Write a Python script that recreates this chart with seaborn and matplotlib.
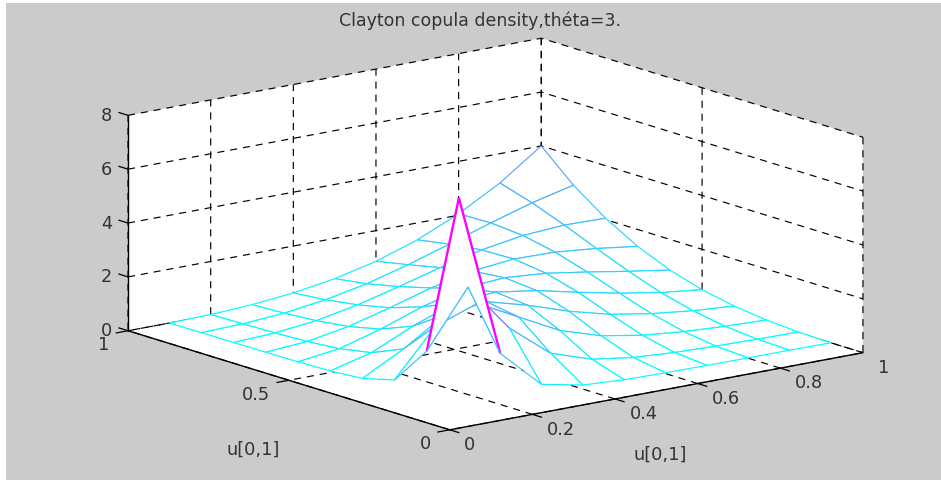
import numpy as np
import matplotlib
matplotlib.use("Agg")
import matplotlib.pyplot as plt
from matplotlib.patches import Rectangle
from mpl_toolkits.mplot3d.art3d import Poly3DCollection, Line3DCollection
import seaborn as sns

# grid of the mesh
u_grid = [0.1, 0.2, 0.3, 0.4, 0.5, 0.6, 0.7, 0.8, 0.9, 1.0]

# density, one row per u value
z_01 = [7.96, 1.90, 0.46, 0.15, 0.06, 0.03, 0.02, 0.01, 0.01, 0.00]
z_02 = [1.90, 4.00, 2.18, 0.96, 0.45, 0.23, 0.13, 0.08, 0.05, 0.03]
z_03 = [0.46, 2.18, 2.73, 1.94, 1.15, 0.67, 0.40, 0.25, 0.16, 0.11]
z_04 = [0.15, 0.96, 1.94, 2.14, 1.72, 1.21, 0.81, 0.55, 0.37, 0.26]
z_05 = [0.06, 0.45, 1.15, 1.72, 1.84, 1.61, 1.26, 0.94, 0.68, 0.50]
z_06 = [0.03, 0.23, 0.67, 1.21, 1.61, 1.72, 1.60, 1.36, 1.10, 0.86]
z_07 = [0.02, 0.13, 0.40, 0.81, 1.26, 1.60, 1.76, 1.73, 1.58, 1.37]
z_08 = [0.01, 0.08, 0.25, 0.55, 0.94, 1.36, 1.73, 1.98, 2.08, 2.05]
z_09 = [0.01, 0.05, 0.16, 0.37, 0.68, 1.10, 1.58, 2.08, 2.54, 2.91]
z_10 = [0.00, 0.03, 0.11, 0.26, 0.50, 0.86, 1.37, 2.05, 2.91, 4.00]

x_ticks = [0, 0.2, 0.4, 0.6, 0.8, 1]
x_tick_labels = ["0", "0.2", "0.4", "0.6", "0.8", "1"]
y_ticks = [0, 0.5, 1]
y_tick_labels = ["0", "0.5", "1"]
z_ticks = [0, 2, 4, 6, 8]
z_tick_labels = ["0", "2", "4", "6", "8"]

title = "Clayton copula density,théta=3."
axis_label = "u[0,1]"

sns.set_theme(style="ticks")
plt.rcParams["font.family"] = ["DejaVu Sans"]
plt.rcParams["grid.color"] = "black"
plt.rcParams["grid.linewidth"] = 0.85
plt.rcParams["grid.linestyle"] = (0, (6, 5))
plt.rcParams["axes.edgecolor"] = "black"
plt.rcParams["axes.linewidth"] = 1.0

W, H = 941, 481
fig = plt.figure(figsize=(W / 100, H / 100), dpi=100, facecolor="white")
fig.add_artist(Rectangle((6 / W, 0), 1, 1 - 4 / H, transform=fig.transFigure,
                         facecolor="#cbcbcb", edgecolor="none", zorder=-5))

S = 750.5
ax = fig.add_axes([110.1 / W, -139.4 / H, S / W, S / H], projection="3d",
                  proj_type="ortho", computed_zorder=False)
ax.set_facecolor("none")
ax.view_init(elev=13.87, azim=-127.9)
ax.set_box_aspect((1, 1, 0.4237))

U = np.array(u_grid)
Z = np.array([z_01, z_02, z_03, z_04, z_05, z_06, z_07, z_08, z_09, z_10])
cool = sns.color_palette("cool", as_cmap=True)


def edge_color(v):
    return cool(v / Z.max())


# painter's order, far corner first, white faces hide what is behind
n = len(U)
order = 10
for i in range(n - 2, -1, -1):
    for j in range(n - 2, -1, -1):
        quad = [(U[i], U[j], Z[i, j]), (U[i + 1], U[j], Z[i + 1, j]),
                (U[i + 1], U[j + 1], Z[i + 1, j + 1]), (U[i], U[j + 1], Z[i, j + 1])]
        face = Poly3DCollection([quad], facecolors="white", edgecolors="none",
                                linewidths=0, zorder=order)
        ax.add_collection3d(face, autolim=False)
        segs = [[quad[0], quad[1]], [quad[0], quad[3]], [quad[1], quad[2]], [quad[3], quad[2]]]
        vals = [Z[i, j], Z[i, j], Z[i + 1, j], Z[i, j + 1]]
        widths = [1.7 if v > 6 else 0.85 for v in vals]
        lines = Line3DCollection(segs, colors=[edge_color(v) for v in vals],
                                 linewidths=widths, zorder=order + 1)
        ax.add_collection3d(lines, autolim=False)
        order += 2

ax.set_xlim(0, 1, view_margin=0)
ax.set_ylim(0, 1, view_margin=0)
ax.set_zlim(0, 8, view_margin=0)
ax.set_xticks(x_ticks)
ax.set_yticks(y_ticks)
ax.set_zticks(z_ticks)

lab = dict(fontsize=12.8, color="#333333", va="center")
ax.set_xticklabels(x_tick_labels, ha="left", **lab)
ax.set_yticklabels(y_tick_labels, ha="right", **lab)
ax.set_zticklabels(z_tick_labels, ha="right", **lab)
ax.tick_params(axis="x", pad=4.8)
ax.tick_params(axis="y", pad=5)
ax.tick_params(axis="z", pad=-1.8)

for axis in (ax.xaxis, ax.yaxis, ax.zaxis):
    axis.set_pane_color("white")
    axis.pane.set_edgecolor("white")
    axis.pane.set_linewidth(0)
    axis._axinfo["tick"]["inward_factor"] = 0
    axis._axinfo["tick"]["outward_factor"] = 0

# tick marks run outward along the floor directions, like the matlab ones
tick_len = 0.03
tick_segs = [[(v, 0, 0), (v, -tick_len, 0)] for v in x_ticks]
tick_segs += [[(0, v, 0), (-tick_len, v, 0)] for v in y_ticks]
tick_segs += [[(0, 1, v), (0, 1 + tick_len, v)] for v in z_ticks]
ax.add_collection3d(Line3DCollection(tick_segs, colors="black", linewidths=0.9, zorder=5),
                    autolim=False)

txt = dict(fontsize=12.8, color="#333333", zorder=1000)
ax.text(0.198, -0.40, 0, axis_label, ha="center", va="center", **txt)
ax.text(-0.389, 0.112, 0, axis_label, ha="center", va="center", **txt)

fig.text(480 / W, 1 - 21 / H, title, ha="center", va="center", fontsize=12.5, color="#333333")

fig.savefig("out.png", dpi=100)
